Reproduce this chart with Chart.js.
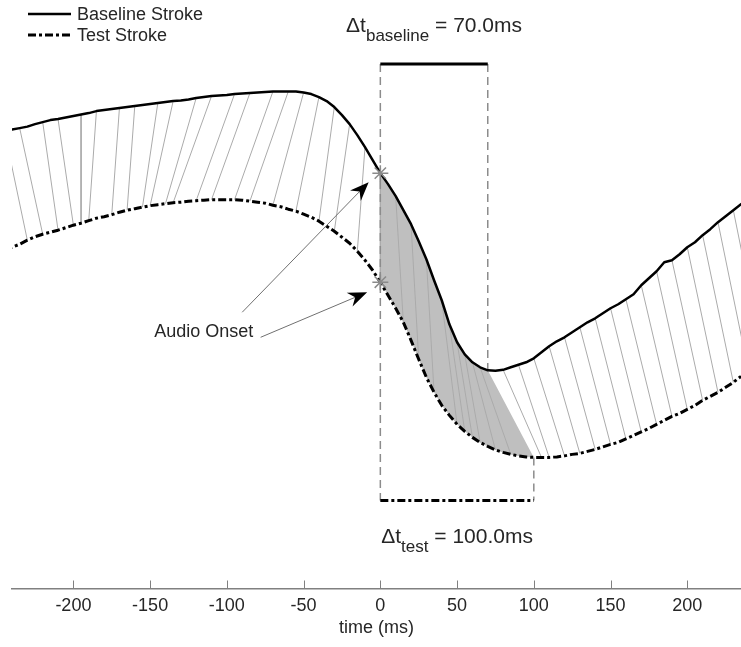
<!DOCTYPE html>
<html>
<head>
<meta charset="utf-8">
<script src="https://cdn.jsdelivr.net/npm/chart.js@4.4.1/dist/chart.umd.min.js"></script>
<style>
html,body{margin:0;padding:0;background:#ffffff;}
canvas{display:block;}
</style>
</head>
<body>
<canvas id="c" width="741" height="647"></canvas>
<script>
// ---------------- DATA ----------------
const timeMs = [-250,-245,-240,-235,-230,-225,-220,-215,-210,-205,-200,-195,-190,-185,-180,-175,-170,-165,-160,-155,
  -150,-145,-140,-135,-130,-125,-120,-115,-110,-105,-100,-95,-90,-85,-80,-75,-70,-65,-60,-55,
  -50,-45,-40,-35,-30,-25,-20,-15,-10,-5,0,5,10,15,20,25,30,35,40,45,
  50,55,60,65,70,75,80,85,90,95,100,105,110,115,120,125,130,135,140,145,
  150,155,160,165,170,175,180,185,190,195,200,205,210,215,220,225,230,235,240,245,
  250,255,260,265,270];

const baselineStroke = [457,457.5,458.5,460,461.5,464,466,468,469,470.5,
  472,473.5,475,477,478,479,480,481,482,483,
  484,485,486,487,487.5,488.5,490,491,492,492.5,
  493,494,494.5,495,495.5,496,496.5,496.5,496.5,496.5,
  495.5,494,491,487,481,473,464,453,441,428,
  415,404,392,378,364,347,329,308,288,264,
  246,234,226,221,218,217.5,218.5,221,223.5,226,
  230,236,242,247,251,256,261,266,270,275,
  280,284,289,294,303,310,317,326,328,334,
  341,346,353,359,366,372,378,384,390,396,
  402,408,414,420,426];

const testStroke = [337,339,341,344,348,351.5,354,356,358,360.5,
  363,365,367.5,370,371.5,373.5,376,378,379.5,381,
  382.5,383.5,384.5,385.5,386,387,387.5,388,388.5,388.5,
  388.5,388.5,388,387,386,385,383,381.5,379,377,
  374,371,367,362,357,351,345,337,328,318,
  306,293,280,266,248,229,211,196,183,173,
  164,157,151,146,142,138.5,136,134,132.5,131.5,
  131,131,131,131.5,132.5,134,135,137,139,141.5,
  144,146,149.5,153,156.5,160,164,168,172,175,
  179,183,188,192,196,201,206,212,216,221,
  226,231,236,241,246];

// time-warping correspondence: baseline time -> test time
const alignBaselineMs = [-245,-235,-220,-210,-195,-185,-170,-160,-145,-135,-120,-110,-95,-85,-70,-60,-50,-40,-30,-20,
  -10,0,10,20,30,40,45,50,55,60,65,80,90,100,110,120,130,140,150,160,170,180,190,200,210,220,230,240];
const alignTestMs = [-230,-220,-210,-200,-195,-190,-175,-165,-155,-150,-140,-135,-120,-110,-95,-85,-70,-55,-40,-30,
  -15,0,15,25,35,50,55,60,65,75,85,105,110,120,130,140,150,160,170,180,190,200,210,220,230,240,250,260];

const onsetMs = 0;
const deltaBaselineMs = 70;
const deltaTestMs = 100;
const xTickValues = [-200,-150,-100,-50,0,50,100,150,200];
const bracketLevels = [524, 88];          // upper bracket, lower bracket (y units)
const deltaLabelLevels = [556, 45];       // text baselines (y units)
const audioLabelPos = [-115, 251];
const audioArrowFrom = [[-90, 276], [-78, 251]];
const audioArrowTo = [[-7.6, 406], [-8.6, 296]];
const seriesNames = ['Baseline Stroke', 'Test Stroke'];

// ---------------- HELPERS ----------------
const FONT = '"Liberation Sans", Arial, Helvetica, sans-serif';
const TXT = '#262626';
const DASHDOT = [8, 3, 3, 3];
function yAt(series, t) { return series[timeMs.indexOf(t)]; }
function pts(series) { return timeMs.map((t, i) => ({x: t, y: series[i]})); }

const alignPts = [];
alignBaselineMs.forEach((tb, i) => {
  const tt = alignTestMs[i];
  alignPts.push({x: tb, y: yAt(baselineStroke, tb)});
  alignPts.push({x: tt, y: yAt(testStroke, tt)});
  alignPts.push({x: tt, y: null});
});

const shadePts = [];
timeMs.forEach((t, i) => { if (t >= onsetMs && t <= onsetMs + deltaBaselineMs) shadePts.push({x: t, y: baselineStroke[i]}); });
for (let i = timeMs.length - 1; i >= 0; i--) {
  const t = timeMs[i];
  if (t >= onsetMs && t <= onsetMs + deltaTestMs) shadePts.push({x: t, y: testStroke[i]});
}

const guidePts = [
  {x: onsetMs, y: bracketLevels[0]}, {x: onsetMs, y: bracketLevels[1]}, {x: onsetMs, y: null},
  {x: onsetMs + deltaBaselineMs, y: bracketLevels[0]}, {x: onsetMs + deltaBaselineMs, y: yAt(baselineStroke, onsetMs + deltaBaselineMs)}, {x: onsetMs + deltaBaselineMs, y: null},
  {x: onsetMs + deltaTestMs, y: yAt(testStroke, onsetMs + deltaTestMs)}, {x: onsetMs + deltaTestMs, y: bracketLevels[1]}
];

// ---------------- PLUGIN ----------------
function drawDeltaLabel(ctx, cx, by, sub, rest) {
  ctx.save();
  ctx.fillStyle = TXT;
  ctx.textBaseline = 'alphabetic';
  ctx.textAlign = 'left';
  const big = '21px ' + FONT, small = '17px ' + FONT;
  ctx.font = big; const w1 = ctx.measureText('\u0394t').width;
  ctx.font = small; const w2 = ctx.measureText(sub).width;
  ctx.font = big; const w3 = ctx.measureText(rest).width;
  let x = cx - (w1 + w2 + w3) / 2;
  ctx.font = big; ctx.fillText('\u0394t', x, by); x += w1;
  ctx.font = small; ctx.fillText(sub, x, by + 9); x += w2;
  ctx.font = big; ctx.fillText(rest, x, by);
  ctx.restore();
}
function drawArrow(ctx, x0, y0, x1, y1) {
  const dx = x1 - x0, dy = y1 - y0, len = Math.hypot(dx, dy);
  const ux = dx / len, uy = dy / len, nx = -uy, ny = ux;
  const L = 19, W = 7.5, notch = 6;
  ctx.save();
  ctx.strokeStyle = '#707070'; ctx.lineWidth = 1;
  ctx.beginPath(); ctx.moveTo(x0, y0); ctx.lineTo(x1 - ux * (L - notch), y1 - uy * (L - notch)); ctx.stroke();
  ctx.fillStyle = '#000';
  ctx.beginPath();
  ctx.moveTo(x1, y1);
  ctx.lineTo(x1 - ux * L + nx * W, y1 - uy * L + ny * W);
  ctx.lineTo(x1 - ux * (L - notch), y1 - uy * (L - notch));
  ctx.lineTo(x1 - ux * L - nx * W, y1 - uy * L - ny * W);
  ctx.closePath(); ctx.fill();
  ctx.restore();
}
const annotPlugin = {
  id: 'annot',
  afterDraw(chart) {
    const ctx = chart.ctx, xs = chart.scales.x, ys = chart.scales.y, area = chart.chartArea;
    // upward tick marks
    ctx.save();
    ctx.strokeStyle = '#808080'; ctx.lineWidth = 1;
    xs.ticks.forEach(tk => {
      const px = Math.round(xs.getPixelForValue(tk.value)) + 0.5;
      ctx.beginPath(); ctx.moveTo(px, area.bottom); ctx.lineTo(px, area.bottom - 8); ctx.stroke();
    });
    ctx.restore();
    // arrows
    audioArrowFrom.forEach((p, i) => {
      const q = audioArrowTo[i];
      drawArrow(ctx, xs.getPixelForValue(p[0]), ys.getPixelForValue(p[1]), xs.getPixelForValue(q[0]), ys.getPixelForValue(q[1]));
    });
    // audio onset label
    ctx.save();
    ctx.fillStyle = TXT; ctx.font = '18px ' + FONT; ctx.textAlign = 'center'; ctx.textBaseline = 'alphabetic';
    ctx.fillText('Audio Onset', xs.getPixelForValue(audioLabelPos[0]), ys.getPixelForValue(audioLabelPos[1]));
    ctx.restore();
    // delta labels
    drawDeltaLabel(ctx, xs.getPixelForValue(onsetMs + deltaBaselineMs / 2), ys.getPixelForValue(deltaLabelLevels[0]),
      'baseline', ' = ' + deltaBaselineMs.toFixed(1) + 'ms');
    drawDeltaLabel(ctx, xs.getPixelForValue(onsetMs + deltaTestMs / 2), ys.getPixelForValue(deltaLabelLevels[1]),
      'test', ' = ' + deltaTestMs.toFixed(1) + 'ms');
    // legend
    ctx.save();
    ctx.strokeStyle = '#000';
    ctx.lineWidth = 2.5; ctx.setLineDash([]);
    ctx.beginPath(); ctx.moveTo(28, 14); ctx.lineTo(71, 14); ctx.stroke();
    ctx.lineWidth = 3; ctx.setLineDash(DASHDOT);
    ctx.beginPath(); ctx.moveTo(28, 35); ctx.lineTo(71, 35); ctx.stroke();
    ctx.setLineDash([]);
    ctx.fillStyle = TXT; ctx.font = '18px ' + FONT; ctx.textAlign = 'left'; ctx.textBaseline = 'alphabetic';
    ctx.fillText(seriesNames[0], 77, 20);
    ctx.fillText(seriesNames[1], 77, 41);
    ctx.restore();
  }
};

// ---------------- CHART ----------------
new Chart(document.getElementById('c'), {
  type: 'line',
  data: {
    datasets: [
      { label: 'onset', data: [{x: onsetMs, y: yAt(baselineStroke, onsetMs)}, {x: onsetMs, y: yAt(testStroke, onsetMs)}],
        showLine: false, pointStyle: 'star', pointRadius: 8, borderColor: '#8a8a8a', backgroundColor: '#8a8a8a', pointBorderWidth: 1.5, order: 0 },
      { label: 'baseline bracket', data: [{x: onsetMs, y: bracketLevels[0]}, {x: onsetMs + deltaBaselineMs, y: bracketLevels[0]}],
        borderColor: '#000', borderWidth: 3, pointRadius: 0, order: 0 },
      { label: 'test bracket', data: [{x: onsetMs, y: bracketLevels[1]}, {x: onsetMs + deltaTestMs, y: bracketLevels[1]}],
        borderColor: '#000', borderWidth: 3, borderDash: DASHDOT, pointRadius: 0, order: 0 },
      { label: seriesNames[0], data: pts(baselineStroke), borderColor: '#000', borderWidth: 2.5, pointRadius: 0,
        borderJoinStyle: 'round', borderCapStyle: 'round', order: 1 },
      { label: seriesNames[1], data: pts(testStroke), borderColor: '#000', borderWidth: 3, borderDash: DASHDOT, pointRadius: 0,
        borderJoinStyle: 'round', order: 1 },
      { label: 'guides', data: guidePts, borderColor: '#8c8c8c', borderWidth: 1.5, borderDash: [8, 5], pointRadius: 0, spanGaps: false, order: 2 },
      { label: 'alignment', data: alignPts, borderColor: '#ababab', borderWidth: 1, pointRadius: 0, spanGaps: false, order: 3 },
      { label: 'shade', data: shadePts, borderWidth: 0, borderColor: 'rgba(0,0,0,0)', backgroundColor: '#bfbfbf', fill: 'shape', pointRadius: 0, order: 4 }
    ]
  },
  options: {
    responsive: false,
    animation: false,
    events: [],
    layout: { autoPadding: false, padding: { left: 12, right: 0, top: 0, bottom: 8 } },
    plugins: { legend: { display: false }, tooltip: { enabled: false } },
    scales: {
      x: {
        type: 'linear', min: -240, max: 235,
        afterBuildTicks: (s) => { s.ticks = xTickValues.map(v => ({value: v})); },
        afterFit: (s) => { s.paddingLeft = 0; s.paddingRight = 0; s.height = 50.5; },
        grid: { display: true, drawOnChartArea: false, drawTicks: false, tickLength: 0 },
        border: { display: true, color: '#808080', width: 1.5 },
        ticks: { color: TXT, font: { family: FONT, size: 18 }, padding: 7, maxRotation: 0, autoSkip: false },
        title: { display: true, text: 'time (ms)', color: TXT, font: { family: FONT, size: 18 }, padding: { top: 0, bottom: 0 } }
      },
      y: { type: 'linear', min: 0, max: 588, display: false }
    }
  },
  plugins: [annotPlugin]
});
</script>
</body>
</html>
